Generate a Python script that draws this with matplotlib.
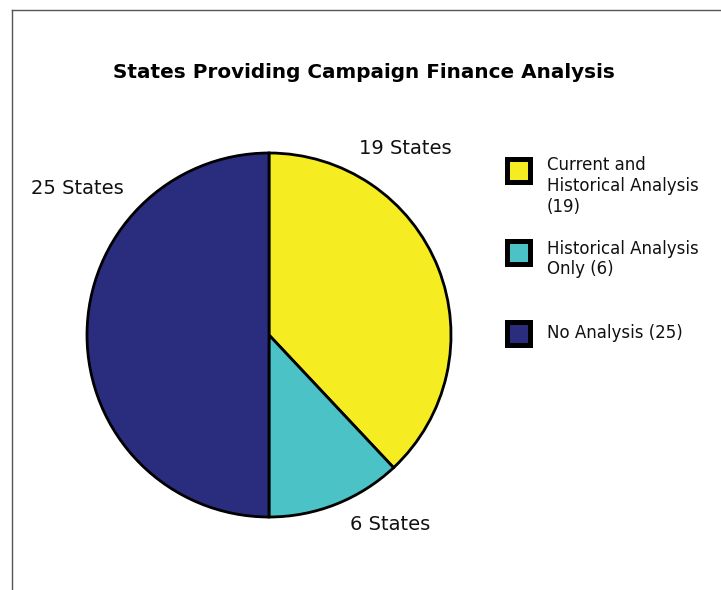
import matplotlib
matplotlib.use("Agg")
import matplotlib.pyplot as plt
from matplotlib.patches import Rectangle

# data
categories = ["Current and\nHistorical Analysis\n(19)", "Historical Analysis\nOnly (6)", "No Analysis (25)"]
values = [19, 6, 25]
slice_labels = ["19 States", "6 States", "25 States"]
colors = ["#F6EC22", "#4AC2C6", "#2A2D7E"]

fig = plt.figure(figsize=(7.21, 5.9), dpi=100)
ax = fig.add_axes([0, 0, 1, 1])

# y axis points down (pixel-like coords), so start at 270 and go counterclockwise in data
ax.pie(values, colors=colors, startangle=270, counterclock=True,
       center=(269, 335), radius=182, frame=True,
       wedgeprops=dict(edgecolor="black", linewidth=2))
ax.set_xlim(0, 721)
ax.set_ylim(590, 0)
ax.set_aspect("equal")
ax.axis("off")

# frame lines (top and left)
ax.plot([12, 721], [10, 10], color="#555555", lw=1)
ax.plot([12, 12], [10, 590], color="#555555", lw=1)

ax.text(364, 72, "States Providing Campaign Finance Analysis", ha="center", va="center",
        fontsize=14.4, fontweight="bold", color="black")

label_pos = [(405, 148), (390, 524), (77, 188)]
for (x, y), t in zip(label_pos, slice_labels):
    ax.text(x, y, t, ha="center", va="center", fontsize=14, color="#111111")

# legend
box_y = [171, 253, 334]
for yb, c in zip(box_y, colors):
    ax.add_patch(Rectangle((505, yb - 14), 28, 28, facecolor="black", edgecolor="none"))
    ax.add_patch(Rectangle((510, yb - 9), 18, 18, facecolor=c, edgecolor="none"))
text_y = [186, 259, 333]
for yt, lab in zip(text_y, categories):
    ax.text(547, yt, lab, ha="left", va="center", fontsize=12, color="#111111",
            linespacing=1.2)

fig.savefig("out.png", dpi=100)
